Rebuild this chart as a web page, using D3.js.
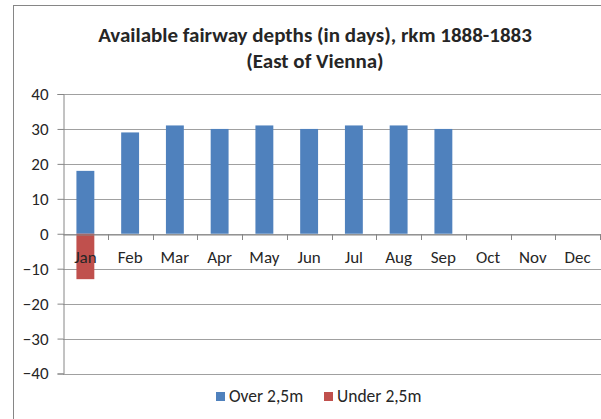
<!DOCTYPE html>
<html>
<head>
<meta charset="utf-8">
<script src="https://cdn.jsdelivr.net/npm/d3@7"></script>
<style>
  body { margin: 0; background: #fff; }
  text { font-family: Carlito, Lato, "Open Sans", sans-serif; fill: #262626; }
</style>
</head>
<body>
<div id="chart"></div>
<script>
// Chart data
const months = ["Jan", "Feb", "Mar", "Apr", "May", "Jun", "Jul", "Aug", "Sep", "Oct", "Nov", "Dec"];
const over25 = [18, 29, 31, 30, 31, 30, 31, 31, 30, 0, 0, 0];
const under25 = [-13, 0, 0, 0, 0, 0, 0, 0, 0, 0, 0, 0];
const yTicks = [-40, -30, -20, -10, 0, 10, 20, 30, 40];
const seriesNames = ["Over 2,5m", "Under 2,5m"];
const seriesColors = ["#4f81bd", "#c0504d"];

const width = 601, height = 419;
const margin = {top: 94, bottom: 45.5, left: 63, right: 1};

const svg = d3.select("#chart")
    .append("svg")
    .attr("width", width)
    .attr("height", height);

// Outer chart border (runs off the right and bottom edges)
svg.append("rect")
    .attr("x", 13.5)
    .attr("y", 5.5)
    .attr("width", 700)
    .attr("height", 700)
    .attr("fill", "none")
    .attr("stroke", "#868686");

// Title
const title = svg.append("text")
    .attr("text-anchor", "middle")
    .style("font-weight", "bold")
    .style("font-size", "21px");
title.append("tspan").attr("x", 315).attr("y", 42).text("Available fairway depths (in days), rkm 1888-1883");
title.append("tspan").attr("x", 315).attr("y", 68).text("(East of Vienna)");

const xScale = d3.scaleBand()
    .domain(months)
    .range([margin.left, width - margin.right]);

const yScale = d3.scaleLinear()
    .domain([-40, 40])
    .range([height - margin.bottom, margin.top]);

// Gridlines
svg.append("g")
    .selectAll("line")
    .data(yTicks)
    .enter().append("line")
    .attr("x1", margin.left)
    .attr("x2", width)
    .attr("y1", d => Math.round(yScale(d)) + 0.5)
    .attr("y2", d => Math.round(yScale(d)) + 0.5)
    .attr("stroke", "#a0a0a0");

// Y axis
const yAxis = svg.append("g")
    .attr("transform", `translate(${margin.left + 0.5},0)`)
    .call(d3.axisLeft(yScale).tickValues(yTicks).tickSize(6).tickPadding(9).tickFormat(d3.format("d")));
yAxis.select(".domain").attr("stroke", "#868686");
yAxis.selectAll(".tick line").attr("stroke", "#868686");
yAxis.selectAll(".tick text").style("font-size", "17px").attr("fill", "#262626");

// Bars
const barWidth = xScale.bandwidth() * 0.4;
[over25, under25].forEach((values, s) => {
    svg.append("g")
        .selectAll("rect")
        .data(months.map((m, i) => ({month: m, value: values[i]})))
        .enter().append("rect")
        .attr("x", d => xScale(d.month) + (xScale.bandwidth() - barWidth) / 2)
        .attr("y", d => yScale(Math.max(0, d.value)))
        .attr("width", barWidth)
        .attr("height", d => Math.abs(yScale(d.value) - yScale(0)))
        .attr("fill", seriesColors[s]);
});

// X axis at zero
const xAxis = svg.append("g")
    .attr("transform", `translate(0,${Math.round(yScale(0)) + 0.5})`)
    .call(d3.axisBottom(xScale).tickSize(0).tickPadding(16));
xAxis.select(".domain").attr("stroke", "#868686");
xAxis.selectAll(".tick text").style("font-size", "17px").attr("fill", "#262626");
svg.append("g")
    .selectAll("line")
    .data(months)
    .enter().append("line")
    .attr("x1", d => Math.round(xScale(d) + xScale.bandwidth()) + 0.5)
    .attr("x2", d => Math.round(xScale(d) + xScale.bandwidth()) + 0.5)
    .attr("y1", Math.round(yScale(0)))
    .attr("y2", Math.round(yScale(0)) + 6)
    .attr("stroke", "#868686");

// Legend
const legendX = [216, 324];
const legend = svg.selectAll(".legend")
    .data(seriesNames)
    .enter().append("g")
    .attr("class", "legend")
    .attr("transform", (d, i) => `translate(${legendX[i]},392)`);

legend.append("rect")
    .attr("width", 9)
    .attr("height", 9)
    .attr("fill", (d, i) => seriesColors[i]);

legend.append("text")
    .attr("x", 13)
    .attr("y", 9.5)
    .style("font-size", "17.5px")
    .text(d => d);
</script>
</body>
</html>
